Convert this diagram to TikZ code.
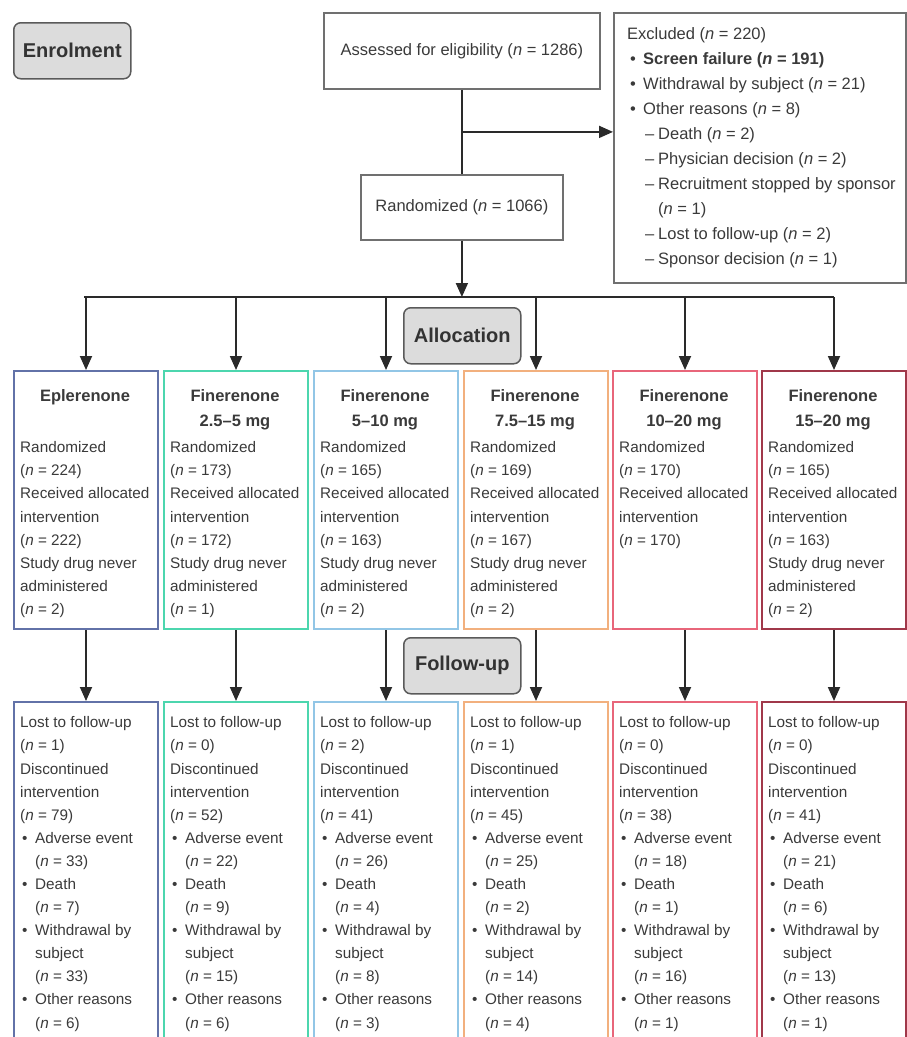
\documentclass[tikz,border=0pt]{standalone}
\usepackage{fontspec}
\setmainfont{Liberation Sans}
\usetikzlibrary{arrows.meta,calc}
\definecolor{cA}{HTML}{6272A8}
\definecolor{cB}{HTML}{4CD6AE}
\definecolor{cC}{HTML}{92C6E6}
\definecolor{cD}{HTML}{F2B07E}
\definecolor{cE}{HTML}{E8667A}
\definecolor{cF}{HTML}{A0384A}
\definecolor{txt}{HTML}{3A3A3A}
\definecolor{lblfill}{HTML}{DCDCDC}
\definecolor{lbldraw}{HTML}{5A5A5A}
\definecolor{gboxc}{HTML}{707070}
\definecolor{connc}{HTML}{2A2A2A}
\newcommand\bul{\makebox[15pt][l]{\hspace{2pt}•}}
\newcommand\ind{\hspace*{15pt}}
\newcommand\xbul{\makebox[16pt][l]{\hspace{3pt}•}}
\newcommand\xdsh{\hspace*{18pt}\makebox[13pt][l]{–}}
\newcommand\xind{\hspace*{31pt}}
\newcommand\nn[1]{(\textit{n} = #1)}
\newcommand\topbody[3]{Randomized\\\nn{#1}\\Received allocated\\intervention\\\nn{#2}\\Study drug never\\administered\\\nn{#3}}
\newcommand\botbody[6]{Lost to follow-up\\\nn{#1}\\Discontinued\\intervention\\\nn{#2}\\\bul Adverse event\\\ind\nn{#3}\\\bul Death\\\ind\nn{#4}\\\bul Withdrawal by\\\ind subject\\\ind\nn{#5}\\\bul Other reasons\\\ind\nn{#6}}
\begin{document}
\begin{tikzpicture}[x=1pt,y=-1pt,
  every node/.style={text=txt},
  lab/.style={draw=lbldraw, fill=lblfill, line width=1.5pt, rounded corners=7pt, minimum width=117pt, minimum height=56pt, anchor=north west, font=\fontsize{20}{24}\selectfont\bfseries, text=black!80, inner sep=0pt},
  gbox/.style={draw=gboxc, line width=1.8pt, anchor=north west, inner sep=0pt, font=\fontsize{16.5}{20}\selectfont},
  cbox/.style={line width=2pt, anchor=north west, minimum width=144pt, inner sep=0pt},
  body/.style={anchor=north west, align=left, inner sep=0pt, font=\fontsize{15.3}{23.1}\selectfont},
  ttl/.style={anchor=north, align=center, inner sep=0pt, font=\fontsize{16.5}{25}\selectfont\bfseries},
  conn/.style={draw=connc, line width=1.8pt},
  arr/.style={conn, -{Triangle[length=14pt,width=12pt]}}]
\useasboundingbox (0,0) rectangle (907,1037);
\clip (0,0) rectangle (907,1037);

% stage labels
\node[lab] (enrol) at (13,22) {Enrolment};
\node[lab] (alloc) at (403,307) {Allocation};
\node[lab] (follow) at (403,637) {Follow-up};

% enrolment
\node[gbox, minimum width=276pt, minimum height=76pt] (ass) at (323,12) {Assessed for eligibility (\textit{n} = 1286)};
\node[gbox, minimum width=202pt, minimum height=65pt] (rand) at (360,174) {Randomized (\textit{n} = 1066)};
\node[gbox, minimum width=292pt, minimum height=270pt] (excl) at (613,12) {};
\node[body, font=\fontsize{16.5}{25}\selectfont] (excltxt) at (627,27) {Excluded (\textit{n} = 220)\\
\xbul\textbf{Screen failure (\textit{n} = 191)}\\
\xbul Withdrawal by subject (\textit{n} = 21)\\
\xbul Other reasons (\textit{n} = 8)\\
\xdsh Death (\textit{n} = 2)\\
\xdsh Physician decision (\textit{n} = 2)\\
\xdsh Recruitment stopped by sponsor\\
\xind(\textit{n} = 1)\\
\xdsh Lost to follow-up (\textit{n} = 2)\\
\xdsh Sponsor decision (\textit{n} = 1)};

% arm boxes
\foreach \i/\x/\c in {1/13/cA,2/163/cB,3/313/cC,4/463/cD,5/612/cE,6/761/cF}{
  \node[cbox, draw=\c, minimum height=258pt] (a\i) at (\x,370) {};
  \node[cbox, draw=\c, minimum height=360pt] (b\i) at (\x,701) {};
}

% titles
\node[ttl] (t1) at (85,389) {Eplerenone};
\node[ttl] (t2) at (235,389) {Finerenone\\2.5–5 mg};
\node[ttl] (t3) at (385,389) {Finerenone\\5–10 mg};
\node[ttl] (t4) at (535,389) {Finerenone\\7.5–15 mg};
\node[ttl] (t5) at (684,389) {Finerenone\\10–20 mg};
\node[ttl] (t6) at (833,389) {Finerenone\\15–20 mg};

% allocation bodies
\node[body] (ab1) at (20,441.5) {\topbody{224}{222}{2}};
\node[body] (ab2) at (170,441.5) {\topbody{173}{172}{1}};
\node[body] (ab3) at (320,441.5) {\topbody{165}{163}{2}};
\node[body] (ab4) at (470,441.5) {\topbody{169}{167}{2}};
\node[body] (ab5) at (619,441.5) {Randomized\\\nn{170}\\Received allocated\\intervention\\\nn{170}};
\node[body] (ab6) at (768,441.5) {\topbody{165}{163}{2}};

% follow-up bodies
\node[body] (bb1) at (20,716.5) {\botbody{1}{79}{33}{7}{33}{6}};
\node[body] (bb2) at (170,716.5) {\botbody{0}{52}{22}{9}{15}{6}};
\node[body] (bb3) at (320,716.5) {\botbody{2}{41}{26}{4}{8}{3}};
\node[body] (bb4) at (470,716.5) {\botbody{1}{45}{25}{2}{14}{4}};
\node[body] (bb5) at (619,716.5) {\botbody{0}{38}{18}{1}{16}{1}};
\node[body] (bb6) at (768,716.5) {\botbody{0}{41}{21}{6}{13}{1}};

% connectors
\draw[conn] (ass.south) -- (rand.north);
\coordinate (mid) at ($(ass.south)!0.5!(rand.north)$);
\draw[arr] (mid) -- (mid -| excl.west);
\coordinate (hl) at (85,297);
\coordinate (hr) at (833,297);
\draw[conn, line cap=rect] (hl) -- (hr);
\draw[arr] (rand.south) -- (rand.south |- hl);
\foreach \i in {1,...,6}{
  \draw[arr] (a\i.north |- hl) -- (a\i.north);
  \draw[arr] (a\i.south) -- (b\i.north);
}
\end{tikzpicture}
\end{document}
